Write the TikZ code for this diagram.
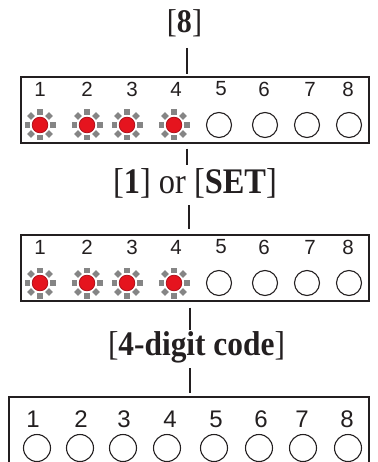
\documentclass[tikz,border=0pt]{standalone}
\usepackage{fontspec}
\setmainfont{Liberation Serif}
\newfontfamily\numfont{Liberation Sans}
\definecolor{ink}{HTML}{231F20}
\definecolor{ledred}{HTML}{E5141E}
\definecolor{ledrim}{HTML}{B0101A}
\definecolor{ledgray}{HTML}{858585}
\begin{document}
\begin{tikzpicture}[x=1pt,y=-1pt,
  keytext/.style={inner sep=0, text=ink},
  panel/.style={draw=ink, line width=1.6, minimum width=348, minimum height=66, inner sep=0, anchor=north west},
  numlab/.style={font=\numfont\fontsize{20.5}{21}\selectfont, inner sep=0, text=ink},
  biglab/.style={font=\numfont\fontsize{24}{24}\selectfont, inner sep=0, text=ink},
  offled/.style={circle, draw=ink, line width=1.1, minimum size=25, inner sep=0, fill=white},
  wire/.style={draw=ink, line width=2.8},
  litled/.pic={
    \foreach \a in {0,45,...,315}
      \fill[ledgray, rotate=\a] (10,-2.8) rectangle (15.5,2.8);
    \fill[ledred] (0,0) circle (7.8);
    \draw[ledrim, line width=0.8] (0,0) circle (7.8);
  }]
\useasboundingbox (0,0) rectangle (377,462);

% texts
\node[keytext, xscale=0.91, font=\fontsize{33}{34}\selectfont] (t1) at (184.5,23) {[\textbf{8}]};
\node[keytext, xscale=0.9, font=\fontsize{36}{37}\selectfont] (t2) at (195,183.5) {[\textbf{1}] or [\textbf{SET}]};
\node[keytext, xscale=0.91, font=\fontsize{34.5}{35}\selectfont] (t3) at (196.5,347) {[\textbf{4-digit code}]};

% panels
\node[panel] (box1) at (20,76) {};
\node[panel] (box2) at (20,234) {};
\node[panel, minimum width=360, minimum height=90] (box3) at (8,396) {};

% panel 1
\foreach \n/\x in {1/40,2/87,3/132,4/176,5/221,6/264,7/310,8/348}
  \node[numlab] (a\n) at (\x,89) {\n};
\foreach \n/\x in {1/40,2/87,3/127,4/174}
  \pic (la\n) at (\x,125) {litled};
\foreach \n/\x in {5/219,6/265,7/307,8/349}
  \node[offled] (ca\n) at (\x,125) {};

% panel 2
\foreach \n/\x in {1/40,2/87,3/132,4/176,5/221,6/264,7/310,8/348}
  \node[numlab] (b\n) at (\x,247) {\n};
\foreach \n/\x in {1/40,2/87,3/127,4/174}
  \pic (lb\n) at (\x,283) {litled};
\foreach \n/\x in {5/219,6/265,7/307,8/349}
  \node[offled] (cb\n) at (\x,283) {};

% panel 3
\foreach \n/\x in {1/33,2/81,3/124,4/170,5/216,6/261,7/302,8/347}
  \node[biglab] (c\n) at (\x,419) {\n};
\foreach \n/\x in {1/37,2/80,3/123,4/167,5/214,6/259,7/303,8/348}
  \node[offled, minimum size=27] (cc\n) at (\x,448) {};

% connectors
\draw[wire, shorten <=25, shorten >=2] ([xshift=2.5]t1.center) -- ([xshift=2.5]t1.center |- box1.north);
\draw[wire, shorten <=5, shorten >=18.5] ([xshift=-8]t2.center |- box1.south) -- ([xshift=-8]t2.center);
\draw[wire, shorten <=21.5, shorten >=5] ([xshift=-6]t2.center) -- ([xshift=-6]t2.center |- box2.north);
\draw[wire, shorten <=6, shorten >=17] ([xshift=-6.5]t3.center |- box2.south) -- ([xshift=-6.5]t3.center);
\draw[wire, shorten <=21, shorten >=3] ([xshift=-6.5]t3.center) -- ([xshift=-6.5]t3.center |- box3.north);
\end{tikzpicture}
\end{document}
